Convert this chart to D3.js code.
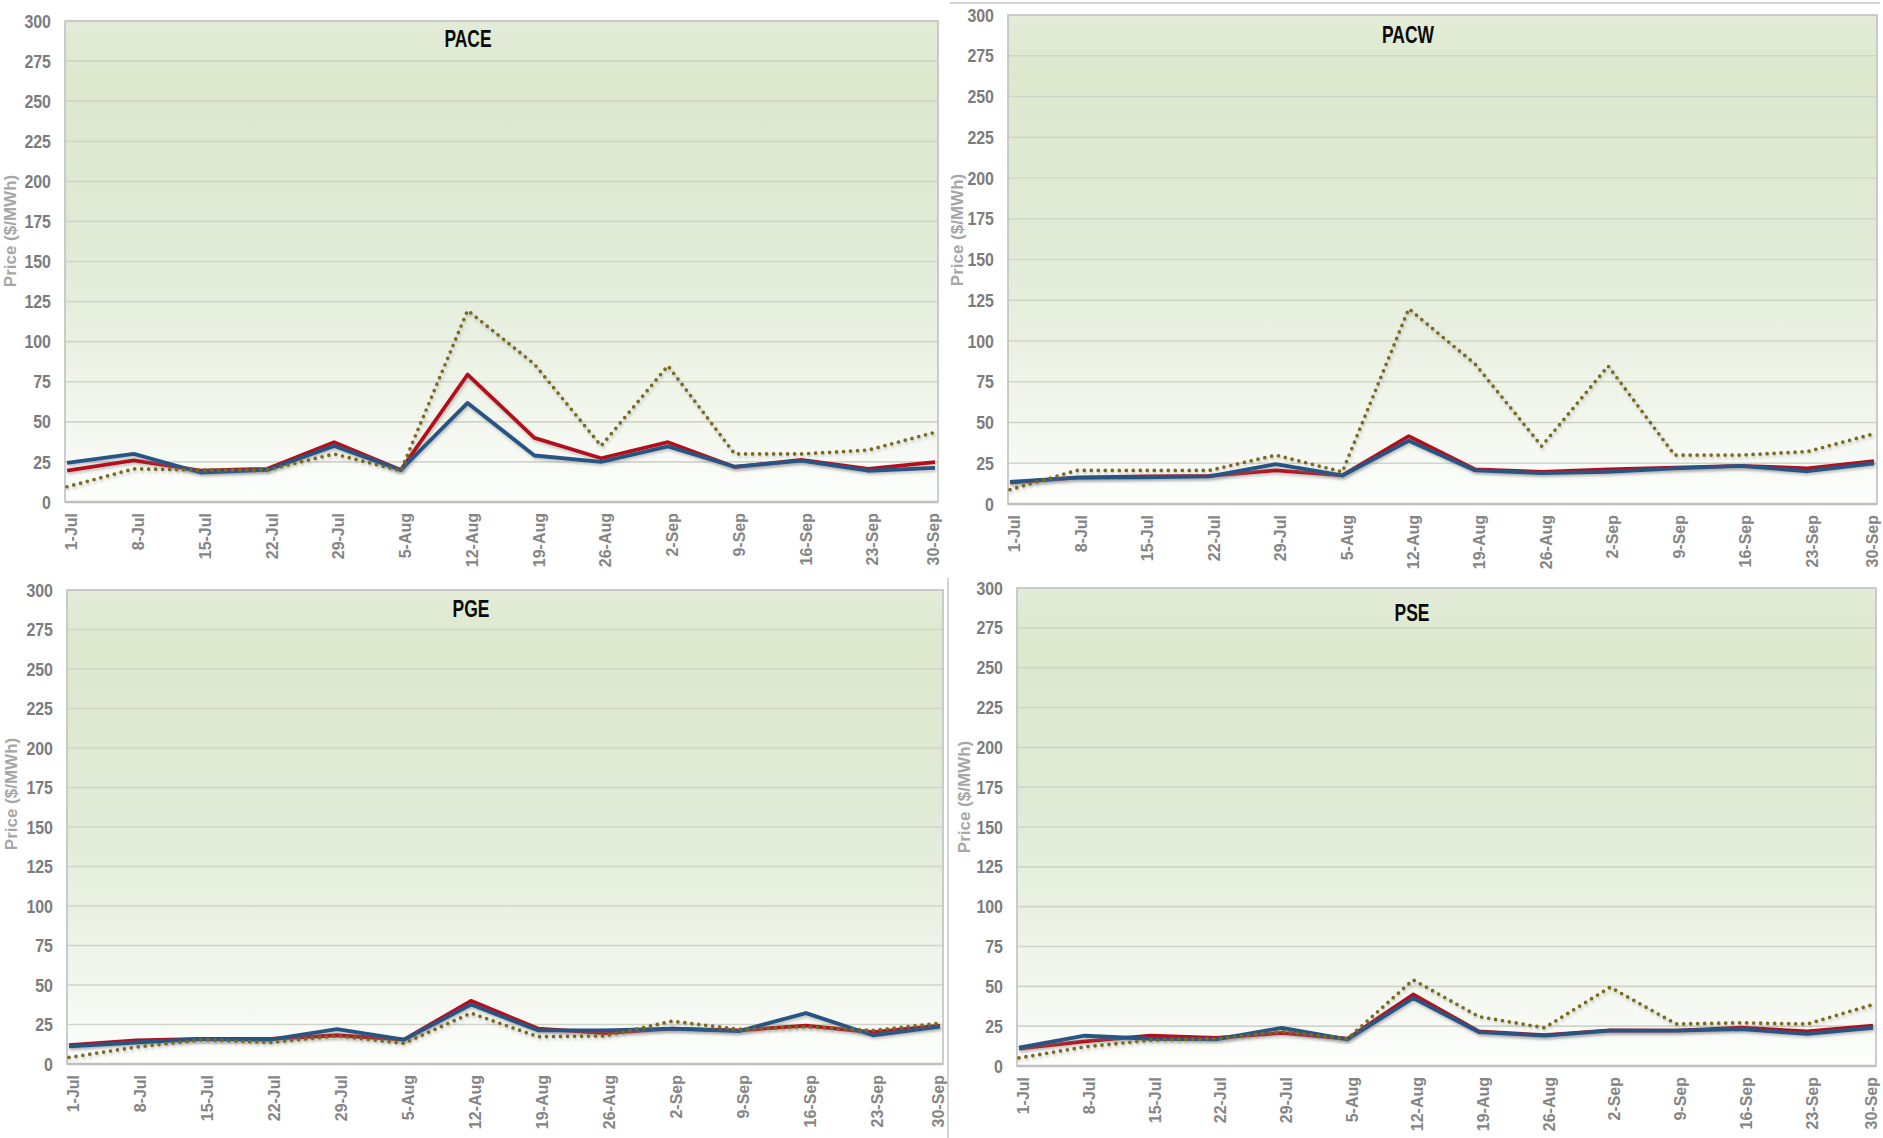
<!DOCTYPE html>
<html>
<head>
<meta charset="utf-8">
<script src="https://cdn.jsdelivr.net/npm/d3@7"></script>
<style>
  html, body { margin: 0; padding: 0; background: #ffffff; }
  svg { display: block; }
</style>
</head>
<body>
<svg id="chart" width="1883" height="1138"></svg>
<script>
// ---------- DATA ----------
const dates = ["1-Jul","8-Jul","15-Jul","22-Jul","29-Jul","5-Aug","12-Aug","19-Aug","26-Aug","2-Sep","9-Sep","16-Sep","23-Sep","30-Sep"];
const yTicks = [0,25,50,75,100,125,150,175,200,225,250,275,300];
const regions = ["PACE","PACW","PGE","PSE"];
const yTitle = "Price ($/MWh)";

const paceBlue   = [24.4,30,18.4,20,35,20,61.8,29,25,34.7,22,25.8,19.5,21.3];
const paceRed    = [19.5,26,19.5,20.7,37.3,20,79.5,40,27.3,37.3,21.8,26.2,20.7,24.9];
const paceDotted = [9.5,20.7,20,20,30,19.5,119.5,86,35,85,30,30,32.4,43.5];

const pacwBlue   = [13.6,16.2,16.4,16.9,24.5,17.5,38.8,20.6,19,19.7,21.9,23.4,20.1,25];
const pacwRed    = [13.1,16.2,16.9,17.3,20.6,17.5,41.6,21.2,19.7,21.2,22.3,23.4,21.9,26.3];
const pacwDotted = [8.8,20.6,20.6,20.6,30,19.7,119.8,85.8,35.5,84.7,30,30,32.2,43.1];

const pgeBlue    = [11.2,13.6,15.9,15.4,22,15.4,37.6,21.3,21.3,22.4,20.8,32.2,18.2,23.6];
const pgeRed     = [11.9,15,15.9,15.9,18.2,15.4,40,22.4,19.6,22.4,21.3,24.3,20.1,24.3];
const pgeDotted  = [4.2,10.7,15.4,13.6,17.8,13.1,32.2,17.3,17.8,27.1,22,23.6,21.3,25.9];

const pseBlue    = [11.6,19,17.1,16.7,24,16.7,42.6,21.3,19,22.2,22.2,23.1,20.1,24];
const pseRed     = [10.9,15.5,19,17.6,20.8,17.1,44.9,21.7,19.4,22.4,22.2,24,21.7,25.4];
const pseDotted  = [5.1,12,16.2,17.1,21.7,17.1,54.1,31,24,49.5,26.4,27.1,26.4,38.6];

const seriesByRegion = {
  PACE: [paceRed, paceBlue, paceDotted],
  PACW: [pacwRed, pacwBlue, pacwDotted],
  PGE:  [pgeRed,  pgeBlue,  pgeDotted],
  PSE:  [pseRed,  pseBlue,  pseDotted]
};

// ---------- LAYOUT / STYLE ----------
const layout = {
  PACE: {left: 65,   right: 938,  top: 21,  bottom: 502,  titleX: 468,  titleY: 47,  yTitleX: 16,  yTitleY: 231},
  PACW: {left: 1008, right: 1877, top: 15,  bottom: 504,  titleX: 1408, titleY: 43,  yTitleX: 963, yTitleY: 230},
  PGE:  {left: 67,   right: 943,  top: 590, bottom: 1064, titleX: 471,  titleY: 617, yTitleX: 17,  yTitleY: 794},
  PSE:  {left: 1017, right: 1876, top: 588, bottom: 1066, titleX: 1412, titleY: 621, yTitleX: 970, yTitleY: 797}
};
const seriesStyle = [
  {color: "#b5101d", width: 3.8, dash: null},
  {color: "#285584", width: 3.8, dash: null},
  {color: "#7a6a1e", width: 3.7, dash: "0,7"}
];

const svg = d3.select("#chart");
const defs = svg.append("defs");

const grad = defs.append("linearGradient")
  .attr("id", "bg").attr("x1", 0).attr("y1", 0).attr("x2", 0).attr("y2", 1);
[[0, "#e2ecd8"], [0.12, "#dde8cf"], [0.45, "#e0ead5"], [0.68, "#eaf1e3"], [0.86, "#f4f8f0"], [1, "#fdfefc"]]
  .forEach(([o, c]) => grad.append("stop").attr("offset", o).attr("stop-color", c));

const shadow = defs.append("filter").attr("id", "shadow")
  .attr("x", "-5%").attr("y", "-20%").attr("width", "110%").attr("height", "140%");
shadow.append("feDropShadow").attr("dx", 1).attr("dy", 2).attr("stdDeviation", 1.5)
  .attr("flood-color", "#7a7a7a").attr("flood-opacity", 0.45);

// collage separators
svg.append("line").attr("x1", 950).attr("x2", 1880).attr("y1", 3).attr("y2", 3)
  .attr("stroke", "#d4d4d4").attr("stroke-width", 2);
svg.append("line").attr("x1", 948).attr("x2", 948).attr("y1", 578).attr("y2", 1138)
  .attr("stroke", "#d4d4d4").attr("stroke-width", 2);

const labFont = "'Liberation Sans', Arial, sans-serif";

regions.forEach(name => {
  const L = layout[name];
  const g = svg.append("g");

  const x = d3.scalePoint().domain(dates).range([L.left + 2, L.right - 3]);
  const y = d3.scaleLinear().domain([0, 300]).range([L.bottom, L.top]);

  // background
  g.append("rect").attr("x", L.left).attr("y", L.top)
    .attr("width", L.right - L.left).attr("height", L.bottom - L.top)
    .attr("fill", "url(#bg)");

  // gridlines
  g.append("g").selectAll("line").data(yTicks.filter(t => t > 0 && t < 300)).join("line")
    .attr("x1", L.left).attr("x2", L.right)
    .attr("y1", d => y(d)).attr("y2", d => y(d))
    .attr("stroke", "#d0d5ca").attr("stroke-width", 1.7);

  // frame
  g.append("rect").attr("x", L.left).attr("y", L.top)
    .attr("width", L.right - L.left).attr("height", L.bottom - L.top)
    .attr("fill", "none").attr("stroke", "#c4c4c4").attr("stroke-width", 1.7);
  g.append("line").attr("x1", L.left).attr("x2", L.right)
    .attr("y1", L.bottom).attr("y2", L.bottom)
    .attr("stroke", "#c0c0c0").attr("stroke-width", 2.6);

  // y axis
  const yAxis = g.append("g").attr("transform", `translate(${L.left},0)`)
    .call(d3.axisLeft(y).tickValues(yTicks).tickSize(0).tickPadding(0));
  yAxis.select(".domain").remove();
  yAxis.selectAll("text")
    .attr("x", 0)
    .attr("transform", "translate(-14,0) scale(0.84,1)")
    .attr("font-family", labFont).attr("font-size", 19).attr("font-weight", "bold")
    .attr("fill", "#7c7c7c");

  // x axis
  const last = dates[dates.length - 1];
  const xAxis = g.append("g").attr("transform", `translate(0,${L.bottom})`)
    .call(d3.axisBottom(x).tickSize(0));
  xAxis.select(".domain").remove();
  xAxis.selectAll("text")
    .attr("font-family", labFont).attr("font-size", 16).attr("font-weight", "bold")
    .attr("fill", "#858585")
    .attr("text-anchor", "end")
    .attr("transform", d => `translate(${d === last ? -2 : 4},11) rotate(-90)`)
    .attr("x", 0).attr("y", 0).attr("dy", "0.36em");

  // y title
  g.append("text")
    .attr("transform", `translate(${L.yTitleX},${L.yTitleY}) rotate(-90)`)
    .attr("text-anchor", "middle")
    .attr("font-family", labFont).attr("font-size", 17).attr("font-weight", "bold")
    .attr("fill", "#a6a6a6")
    .text(yTitle);

  // chart title
  g.append("text")
    .attr("transform", `translate(${L.titleX},${L.titleY}) scale(0.76,1)`)
    .attr("text-anchor", "middle")
    .attr("font-family", labFont).attr("font-size", 23).attr("font-weight", "bold")
    .attr("fill", "#0a0a0a")
    .text(name);

  // lines
  const line = d3.line().x((d, i) => x(dates[i])).y(d => y(d));
  seriesByRegion[name].forEach((vals, si) => {
    const st = seriesStyle[si];
    const p = g.append("path").datum(vals)
      .attr("d", line)
      .attr("fill", "none")
      .attr("stroke", st.color)
      .attr("stroke-width", st.width)
      .attr("stroke-linejoin", "round")
      .attr("filter", "url(#shadow)");
    if (st.dash) p.attr("stroke-dasharray", st.dash).attr("stroke-linecap", "round");
  });
});
</script>
</body>
</html>
